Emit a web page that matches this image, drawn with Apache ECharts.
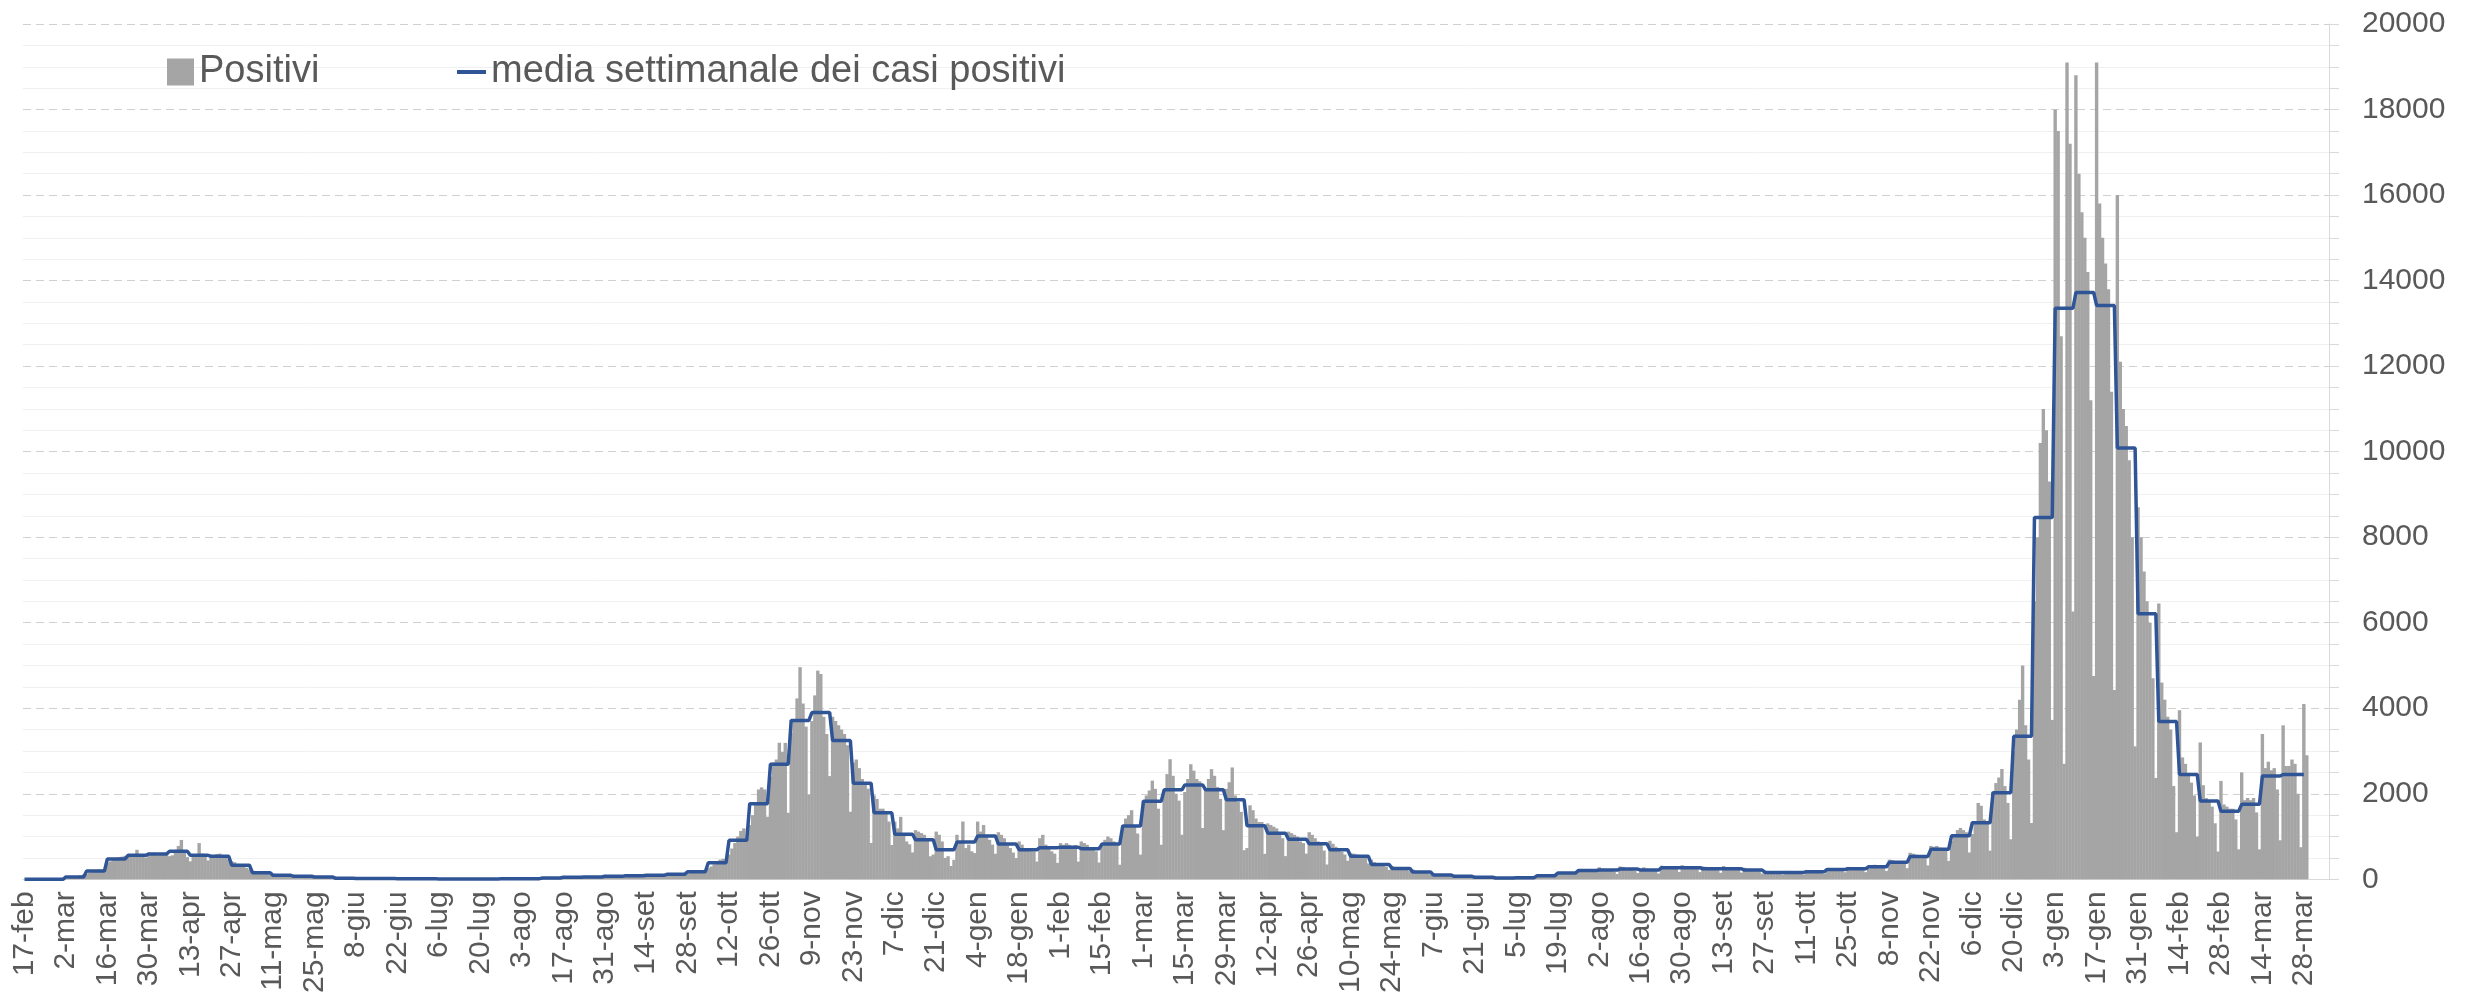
<!DOCTYPE html>
<html>
<head>
<meta charset="utf-8">
<title>Positivi e media settimanale</title>
<script src="https://cdn.jsdelivr.net/npm/echarts@6.0.0/dist/echarts.min.js"></script>
<style>
  html, body { margin: 0; padding: 0; background: #fff; }
  #chart { width: 2471px; height: 996px; }
</style>
</head>
<body>
<div id="chart"></div>
<script>
// casi positivi giornalieri, una riga per settimana (lun..dom), dal 17-feb-2020
var positivi2020 = [
    0, 0, 0, 0, 0, 0, 0,
    0, 0, 0, 1, 0, 2, 4,
    10, 18, 30, 45, 65, 95, 115,
    120, 160, 170, 210, 230, 220, 235,
    380, 420, 450, 490, 520, 530, 549,
    520, 540, 560, 690, 560, 550, 510,
    580, 600, 620, 560, 610, 590, 584,
    540, 560, 640, 780, 920, 620, 518,
    420, 520, 560, 846, 600, 540, 441,
    500, 560, 590, 600, 540, 520, 456,
    420, 400, 360, 330, 300, 270, 230,
    200, 180, 165, 150, 140, 130, 113,
    110, 105, 95, 90, 85, 80, 79,
    80, 75, 72, 68, 65, 62, 61,
    62, 58, 56, 54, 52, 50, 46,
    35, 30, 27, 25, 22, 20, 16,
    24, 22, 21, 20, 19, 17, 17,
    18, 17, 16, 16, 15, 15, 15,
    14, 13, 12, 12, 11, 11, 11,
    11, 10, 10, 10, 10, 9, 10,
    9, 8, 8, 8, 8, 7, 8,
    8, 8, 9, 8, 7, 8, 8,
    9, 9, 10, 9, 8, 9, 9,
    10, 11, 12, 11, 11, 12, 10,
    12, 14, 15, 16, 17, 16, 15,
    22, 26, 30, 33, 36, 35, 35,
    40, 42, 45, 48, 50, 49, 48,
    50, 52, 55, 56, 57, 54, 54,
    60, 65, 70, 72, 75, 70, 71,
    75, 80, 85, 90, 92, 88, 85,
    85, 90, 95, 98, 95, 92, 89,
    100, 105, 112, 120, 125, 122, 121,
    140, 155, 170, 185, 200, 195, 194,
    260, 300, 350, 400, 460, 480, 445,
    580, 720, 850, 1000, 1130, 1190, 900,
    1270, 1500, 1800, 2100, 2150, 2100, 1463,
    2400, 2730, 2800, 3190, 2980, 3190, 1555,
    3420, 3730, 4230, 4960, 4110, 3570, 1978,
    3700, 4300, 4880, 4800, 3800, 3400, 2413,
    3800, 3700, 3600, 3500, 3400, 3135, 1580,
    2730, 2800, 2600, 2345, 2270, 2119, 850,
    1960, 1880, 1650, 1650, 1580, 1350, 801,
    1350, 1190, 1460, 1040, 885, 818, 628,
    1150, 1115, 1080, 1040, 960, 538, 578,
    1115, 1040, 885, 500, 540, 310, 454,
    1040, 885, 1350, 730, 810, 655, 613
];
var positivi2021 = [
    1350, 1115, 1270, 1040, 923, 810, 597,
    1100, 1040, 960, 810, 730, 625, 496,
    885, 810, 730, 700, 655, 650, 414,
    960, 1040, 810, 730, 655, 600, 385,
    846, 807, 846, 807, 730, 800, 414,
    885, 846, 807, 730, 690, 655, 392,
    846, 923, 1000, 960, 885, 807, 340,
    1270, 1420, 1500, 1615, 1270, 1070, 577,
    1846, 1960, 2076, 2307, 2115, 1650, 807,
    2076, 2460, 2807, 2420, 2000, 1840, 1041,
    2040, 2345, 2690, 2540, 2345, 2290, 1199,
    2115, 2345, 2575, 2420, 2160, 1880, 1149,
    2115, 2270, 2615, 1960, 1810, 1577, 680,
    730, 1730, 1615, 1420, 1340, 1340, 596,
    1307, 1270, 1230, 1190, 1040, 960, 542,
    1115, 1080, 1040, 1000, 885, 846, 600,
    1100, 1040, 960, 885, 807, 672, 346,
    900, 830, 760, 700, 640, 580, 434,
    615, 600, 580, 560, 540, 500, 371,
    461, 400, 380, 350, 320, 290, 221,
    308, 290, 270, 250, 240, 230, 190,
    230, 200, 180, 165, 150, 140, 118,
    130, 118, 105, 98, 92, 85, 72,
    85, 80, 72, 68, 65, 62, 58,
    55, 52, 48, 45, 43, 40, 39,
    36, 34, 32, 30, 29, 28, 28,
    30, 33, 36, 38, 42, 44, 43,
    55, 65, 78, 88, 100, 110, 99,
    115, 130, 140, 150, 165, 170, 152,
    190, 210, 220, 230, 215, 200, 191,
    280, 250, 240, 230, 200, 180, 125,
    300, 290, 260, 240, 230, 200, 146,
    200, 280, 250, 230, 210, 200, 135,
    320, 300, 290, 280, 270, 250, 173,
    330, 310, 290, 280, 265, 240, 168,
    300, 290, 270, 255, 240, 215, 152,
    310, 285, 265, 250, 235, 220, 157,
    270, 250, 235, 220, 205, 190, 135,
    200, 185, 175, 165, 150, 140, 112,
    195, 185, 175, 165, 155, 140, 112,
    210, 200, 190, 180, 170, 160, 129,
    260, 255, 250, 240, 230, 210, 165,
    290, 275, 265, 255, 245, 225, 167,
    250, 330, 340, 320, 310, 300, 194,
    460, 450, 430, 420, 400, 380, 260,
    620, 600, 580, 560, 540, 520, 325,
    780, 760, 780, 740, 720, 690, 430,
    900, 1000, 1150, 1200, 1150, 1100, 626,
    1058, 1322, 1785, 1720, 1400, 1300, 669,
    2050, 2250, 2380, 2580, 2180, 1785, 936,
    3000, 3500, 4200, 5000, 3600, 2800, 1315,
    6500, 8000, 10200, 11000, 10500, 9300, 3727
];
var positivi2022 = [
    18000, 17500, 12700, 2700, 19100, 17200, 6264,
    18800, 16500, 15600, 15000, 14200, 11200, 4754,
    19100, 15800, 15000, 14400, 13800, 11400, 4426,
    16000, 12100, 11000, 10600, 9800, 8000, 3109,
    8700, 8000, 7200, 6500, 6000, 4700, 2370,
    6450, 4600, 4200, 3800, 3500, 2180, 1100,
    3950, 2850, 2700, 2430, 2260, 1960, 1000,
    3200, 2200, 1900, 1850, 1700, 1310, 650,
    2300, 1750, 1700, 1650, 1650, 1400, 701,
    2500, 1850, 1900, 1850, 1900, 1564, 700,
    3400, 2600, 2750, 2550, 2600, 2100, 912,
    3600, 2650, 2650, 2800, 2700, 2000, 750,
    4100, 2900
];

// media settimanale (lun..dom), una voce per settimana dal 17-feb-2020
var mediaSettimanale = [
    0, 0, 54, 192, 477, 561, 592, 654, 561, 538,
    330, 154, 92, 69, 54, 25, 20, 16, 12, 10,
    8, 8, 9, 11, 15, 31, 46, 54, 69, 85,
    92, 115, 177, 385, 910, 1769, 2692, 3714, 3899, 3245,
    2245, 1553, 1053, 923, 692, 869, 1015, 823, 692, 740,
    750, 715, 823, 1246, 1823, 2092, 2207, 2092, 1861, 1253,
    1077, 938, 830, 692, 538, 346, 254, 169, 100, 70,
    46, 31, 38, 85, 146, 208, 215, 238, 215, 269,
    269, 246, 246, 215, 161, 161, 177, 230, 246, 292,
    400, 535, 700, 1018, 1322, 2023, 3345, 8461, 13352, 13722,
    13418, 10087, 6210, 3690, 2450, 1830, 1593, 1752, 2416, 2450
];

var mesi = ['gen', 'feb', 'mar', 'apr', 'mag', 'giu', 'lug', 'ago', 'set', 'ott', 'nov', 'dic'];
var giorniAsse = 779; // l'asse prosegue qualche giorno oltre l'ultimo dato

var positivi = positivi2020.concat(positivi2021, positivi2022);

var giorni = [];
var inizio = Date.UTC(2020, 1, 17);
for (var i = 0; i < giorniAsse; i++) {
    var d = new Date(inizio + i * 86400000);
    giorni.push(d.getUTCDate() + '-' + mesi[d.getUTCMonth()]);
}

// la media si disegna giorno per giorno, costante nella settimana
var media = [];
for (var g = 0; g <= 770; g++) {
    media.push(mediaSettimanale[Math.min(Math.floor(g / 7), mediaSettimanale.length - 1)]);
}

var chart = echarts.init(document.getElementById('chart'));
chart.setOption({
    animation: false,
    backgroundColor: '#fff',
    textStyle: { fontFamily: 'Liberation Sans', color: '#595959' },
    grid: { left: 23, right: 142, top: 24, bottom: 104 },
    legend: [{
        left: 162,
        top: 48,
        data: ['Positivi'],
        icon: 'rect',
        itemWidth: 27,
        itemHeight: 27,
        selectedMode: false,
        textStyle: { fontSize: 38, color: '#595959' }
    }, {
        left: 452,
        top: 48,
        data: ['media settimanale dei casi positivi'],
        icon: 'rect',
        itemWidth: 29,
        itemHeight: 4,
        selectedMode: false,
        textStyle: { fontSize: 38, color: '#595959' }
    }],
    xAxis: {
        type: 'category',
        data: giorni,
        boundaryGap: true,
        axisLine: { lineStyle: { color: '#d9d9d9', width: 1 } },
        axisTick: { interval: 13, length: 8, lineStyle: { color: '#bfbfbf' } },
        axisLabel: {
            interval: 13,
            rotate: 90,
            margin: 12,
            fontSize: 30,
            color: '#595959'
        },
        splitLine: { show: false }
    },
    yAxis: {
        type: 'value',
        position: 'right',
        min: 0,
        max: 20000,
        interval: 2000,
        axisLine: { show: true, lineStyle: { color: '#d9d9d9' } },
        axisTick: { show: true, length: 10, lineStyle: { color: '#d9d9d9' } },
        minorTick: { show: true, splitNumber: 4, length: 10, lineStyle: { color: '#d9d9d9' } },
        axisLabel: {
            margin: 33,
            fontSize: 30,
            color: '#595959',
            formatter: function(v) { return String(v); }
        },
        splitLine: { lineStyle: { color: '#d0d0d0', type: [8, 5] } },
        minorSplitLine: { show: true, lineStyle: { color: '#f0f0f0' } }
    },
    series: [{
        name: 'Positivi',
        type: 'bar',
        data: positivi,
        barWidth: 3.4,
        itemStyle: { color: '#a5a5a5' }
    }, {
        name: 'media settimanale dei casi positivi',
        type: 'line',
        data: media,
        showSymbol: false,
        symbol: 'none',
        z: 3,
        lineStyle: { color: '#2f5597', width: 3.5 },
        itemStyle: { color: '#2f5597' }
    }]
});
</script>
</body>
</html>
